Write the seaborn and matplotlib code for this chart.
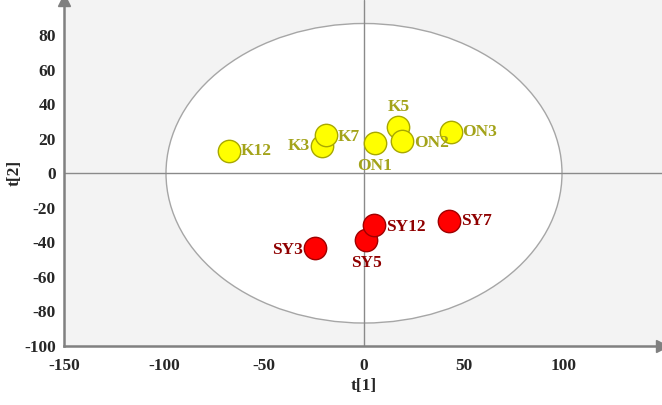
import matplotlib
matplotlib.use("Agg")
import matplotlib.pyplot as plt
import seaborn as sns
import pandas as pd
from matplotlib.patches import Ellipse
from matplotlib.ticker import MultipleLocator

# ---- data ----
labels = ["K12", "K3", "K7", "ON1", "K5", "ON2", "ON3", "SY3", "SY5", "SY12", "SY7"]
t1 = [-67.5, -20.8, -19.0, 5.5, 17.2, 19.2, 43.3, -24.3, 1.0, 5.0, 42.7]
t2 = [13.0, 15.8, 22.4, 17.7, 26.8, 18.7, 23.9, -43.0, -38.7, -29.7, -27.6]
group = ["A"] * 7 + ["B"] * 4
# label offsets in pixels (dx, dy) and horizontal alignment
label_dx = [12, -12, 12, 0, 0, 12, 12, -12, 0, 12, 12]
label_dy = [0, 0, -2, -23, 20, -2, 0, -2, -23, -2, 0]
label_ha = ["left", "right", "left", "center", "center", "left", "left", "right", "center", "left", "left"]

ellipse_w = 99.0
ellipse_h = 86.7

df = pd.DataFrame({"t1": t1, "t2": t2, "group": group, "label": labels})

sns.set_style("white")
plt.rcParams["font.family"] = ["Liberation Serif", "DejaVu Serif"]
plt.rcParams["axes.unicode_minus"] = False

fig = plt.figure(figsize=(6.62, 4.05), dpi=100)
ax = fig.add_axes([64 / 662, 59 / 405, 598 / 662, 346 / 405])
ax.set_facecolor("#f3f3f3")

ax.add_patch(Ellipse((0, 0), 2 * ellipse_w, 2 * ellipse_h, facecolor="white",
                     edgecolor="#a6a6a6", lw=1.0, zorder=1))
ax.axhline(0, color="#8a8a8a", lw=1.0, zorder=1.5)
ax.axvline(0, color="#8a8a8a", lw=1.0, zorder=1.5)

palette = {"A": "#ffff00", "B": "#ff0000"}
edges = {"A": "#a8a800", "B": "#a00000"}
for g in ["A", "B"]:
    sub = df[df.group == g]
    sns.scatterplot(data=sub, x="t1", y="t2", color=palette[g], edgecolor=edges[g],
                    linewidth=1.0, s=260, ax=ax, zorder=3, legend=False)

text_colors = {"A": "#a3a31a", "B": "#8f0000"}
for i in range(len(labels)):
    ax.annotate(labels[i], (t1[i], t2[i]), xytext=(label_dx[i] * 0.72, label_dy[i] * 0.72),
                textcoords="offset points", ha=label_ha[i], va="center",
                fontsize=12.5, fontweight="bold", color=text_colors[group[i]], zorder=4)

ax.set_xlim(-150, 149)
ax.set_ylim(-100, 100.3)
ax.xaxis.set_major_locator(MultipleLocator(50))
ax.xaxis.set_minor_locator(MultipleLocator(10))
ax.yaxis.set_major_locator(MultipleLocator(20))
ax.yaxis.set_minor_locator(MultipleLocator(5))
ax.set_xticks([-150, -100, -50, 0, 50, 100])
ax.set_yticks(list(range(-100, 81, 20)))

for sp in ["top", "right"]:
    ax.spines[sp].set_visible(False)
for sp in ["left", "bottom"]:
    ax.spines[sp].set_color("#808080")
    ax.spines[sp].set_linewidth(1.8)

ax.tick_params(axis="both", which="major", direction="out", length=5, width=1.2,
               color="#808080", labelsize=12.5)
ax.tick_params(axis="x", which="major", pad=4)
ax.tick_params(axis="y", which="major", pad=1)
ax.tick_params(axis="both", which="minor", direction="out", length=3, width=1.0,
               color="#808080")
for lab in ax.get_xticklabels() + ax.get_yticklabels():
    lab.set_fontweight("bold")

ax.set_xlabel("t[1]", fontsize=12.5, fontweight="bold")
ax.set_ylabel("t[2]", fontsize=12.5, fontweight="bold")
ax.xaxis.set_label_coords((364 - 64) / 598, -(386 - 346) / 346)
ax.yaxis.set_label_coords((15 - 64) / 598, (346 - 173) / 346)
ax.xaxis.label.set_va("center")
ax.yaxis.label.set_va("center")

# arrow heads at axis ends
ax.plot([1], [0], marker=">", markersize=9, color="#808080", transform=ax.transAxes, clip_on=False)
ax.plot([0], [1], marker="^", markersize=9, color="#808080", transform=ax.transAxes, clip_on=False)

fig.savefig("out.png", dpi=100)
